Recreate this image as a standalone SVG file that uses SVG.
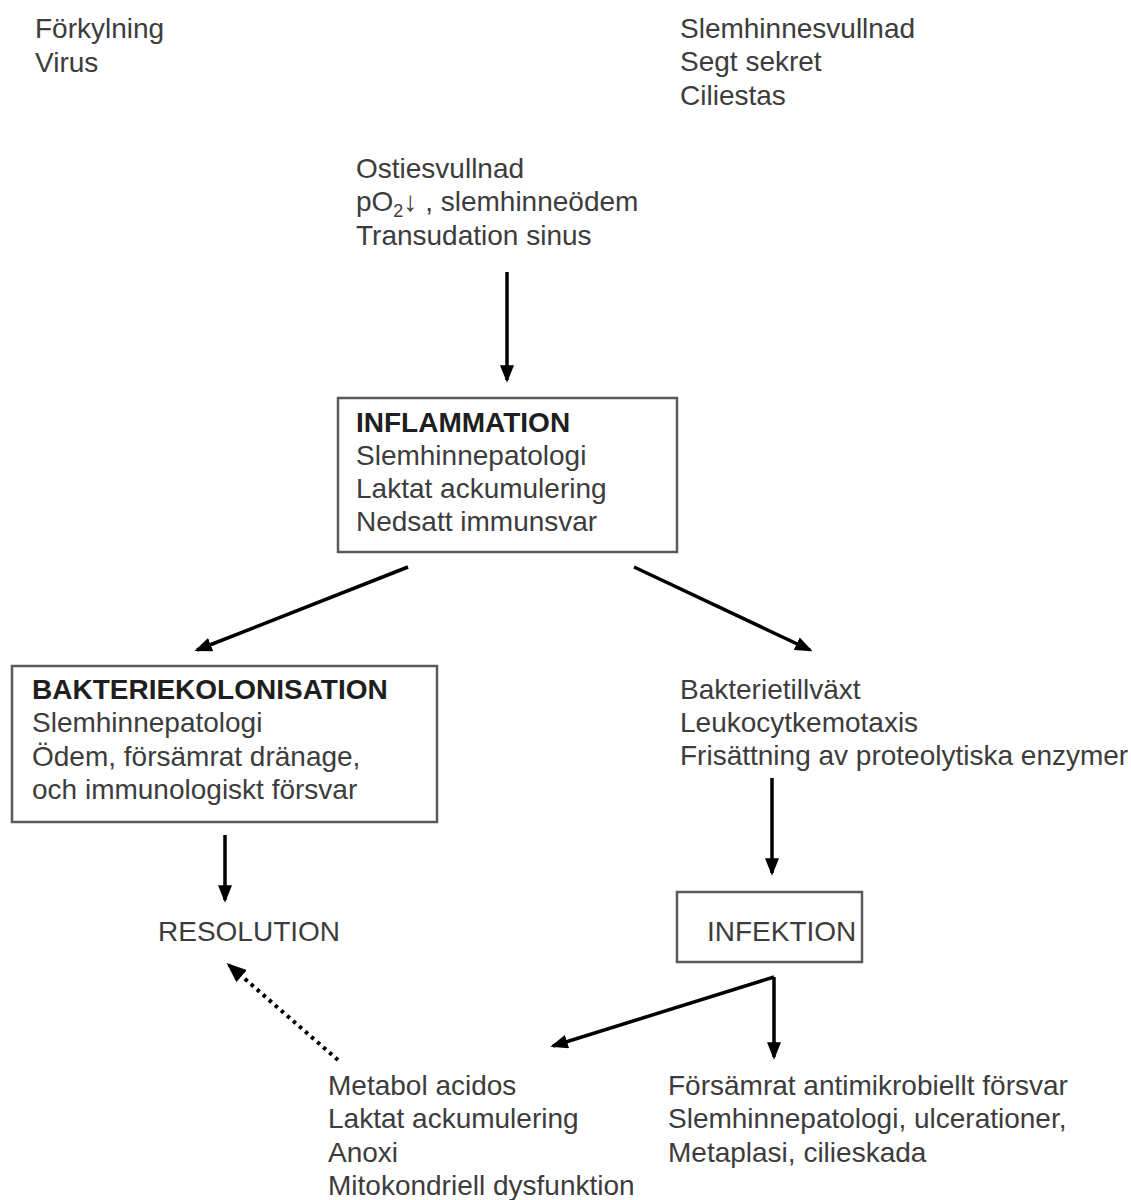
<svg xmlns="http://www.w3.org/2000/svg" width="1131" height="1200" viewBox="0 0 1131 1200">
<defs>
<style>
text{font-family:"Liberation Sans",Arial,sans-serif;font-size:28px;fill:#3c3c3c}
.b{font-weight:bold;fill:#1e1e1e}
.box{fill:#fff;stroke:#5a5a5a;stroke-width:2.5}
.arr{stroke:#000;stroke-width:3.5;fill:none;marker-end:url(#ah)}
.dot{stroke:#000;stroke-width:4;fill:none;stroke-dasharray:3.5 4.5;marker-end:url(#ah2)}
</style>
<marker id="ah" markerWidth="5" markerHeight="4" refX="4.2" refY="2" orient="auto" markerUnits="strokeWidth">
<path d="M0,0 L5,2 L0,4 z" fill="#000"/>
</marker>
<marker id="ah2" markerWidth="5" markerHeight="4" refX="4.2" refY="2" orient="auto" markerUnits="strokeWidth">
<path d="M0,0 L5,2 L0,4 z" fill="#000"/>
</marker>
</defs>
<rect width="1131" height="1200" fill="#fff"/>

<g id="connectors">
<line class="arr" x1="507" y1="272" x2="507" y2="380"/>
<line class="arr" x1="408" y1="567" x2="197" y2="650"/>
<line class="arr" x1="634" y1="567" x2="810" y2="650"/>
<line class="arr" x1="225" y1="835" x2="225" y2="900"/>
<line class="arr" x1="772" y1="778" x2="772" y2="873"/>
<polyline class="arr" points="774,977 553,1046"/>
<line class="arr" x1="774" y1="977" x2="774" y2="1057"/>
<line class="dot" x1="338" y1="1060" x2="229" y2="965"/>
</g>

<g id="n-forkylning">
<text x="35" y="38">Förkylning</text>
<text x="35" y="72">Virus</text>
</g>

<g id="n-slemhinne">
<text x="680" y="38">Slemhinnesvullnad</text>
<text x="680" y="71">Segt sekret</text>
<text x="680" y="105">Ciliestas</text>
</g>

<g id="n-ostie">
<text x="356" y="178">Ostiesvullnad</text>
<text x="356" y="211">pO<tspan font-size="18" dy="6">2</tspan><tspan dy="-6">↓ , slemhinneödem</tspan></text>
<text x="356" y="245">Transudation sinus</text>
</g>

<g id="n-inflammation">
<rect class="box" x="338" y="398" width="339" height="154"/>
<text class="b" x="356" y="432">INFLAMMATION</text>
<text x="356" y="465">Slemhinnepatologi</text>
<text x="356" y="498">Laktat ackumulering</text>
<text x="356" y="531">Nedsatt immunsvar</text>
</g>

<g id="n-bakteriekolonisation">
<rect class="box" x="12" y="666" width="425" height="156"/>
<text class="b" x="32" y="699">BAKTERIEKOLONISATION</text>
<text x="32" y="732">Slemhinnepatologi</text>
<text x="32" y="766">Ödem, försämrat dränage,</text>
<text x="32" y="799">och immunologiskt försvar</text>
</g>

<g id="n-bakterietillvaxt">
<text x="680" y="699">Bakterietillväxt</text>
<text x="680" y="732">Leukocytkemotaxis</text>
<text x="680" y="765">Frisättning av proteolytiska enzymer</text>
</g>

<g id="n-resolution">
<text x="158" y="941">RESOLUTION</text>
</g>

<g id="n-infektion">
<rect class="box" x="677" y="892" width="185" height="70"/>
<text x="707" y="941">INFEKTION</text>
</g>

<g id="n-metabol">
<text x="328" y="1095">Metabol acidos</text>
<text x="328" y="1128">Laktat ackumulering</text>
<text x="328" y="1162">Anoxi</text>
<text x="328" y="1195">Mitokondriell dysfunktion</text>
</g>

<g id="n-forsamrat">
<text x="668" y="1095">Försämrat antimikrobiellt försvar</text>
<text x="668" y="1128">Slemhinnepatologi, ulcerationer,</text>
<text x="668" y="1162">Metaplasi, cilieskada</text>
</g>
</svg>
